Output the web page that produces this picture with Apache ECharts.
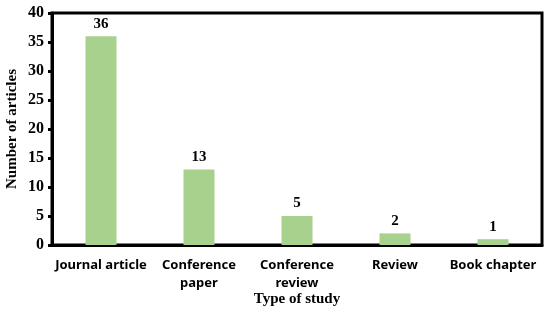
<!DOCTYPE html>
<html>
<head>
    <meta charset="utf-8">
    <script src="https://cdn.jsdelivr.net/npm/echarts@6/dist/echarts.min.js"></script>
    <style>
    html, body { margin: 0; padding: 0; background: #fff; }
    #main { width: 550px; height: 312px; }
    </style>
</head>
<body>
    <div id="main"></div>
    <script type="text/javascript">
        var categories = ['Journal article', 'Conference\npaper', 'Conference\nreview', 'Review', 'Book chapter'];
        var articles = [36, 13, 5, 2, 1];

        var serif = '"Liberation Serif", "Times New Roman", serif';
        var sans = '"Noto Sans", "Open Sans", sans-serif';

        var myChart = echarts.init(document.getElementById('main'));
        var option = {
            animation: false,
            grid: {
                left: 52, right: 8, top: 13, bottom: 67,
                outerBoundsMode: 'none',
                containLabel: false,
                show: true,
                borderColor: '#000',
                borderWidth: 3
            },
            xAxis: {
                type: 'category',
                data: categories,
                name: 'Type of study',
                nameLocation: 'middle',
                nameMoveOverlap: false,
                nameGap: 47,
                nameTextStyle: { fontFamily: serif, fontWeight: 'bold', fontSize: 15, color: '#000' },
                axisLine: { lineStyle: { color: '#000', width: 3 } },
                axisTick: { alignWithLabel: true, length: 4, lineStyle: { color: '#000', width: 3 } },
                axisLabel: {
                    color: '#000', fontFamily: sans, fontWeight: 'bold', fontSize: 13,
                    lineHeight: 18, margin: 11, interval: 0
                }
            },
            yAxis: {
                type: 'value',
                min: 0, max: 40, interval: 5,
                name: 'Number of articles',
                nameLocation: 'middle',
                nameMoveOverlap: false,
                nameGap: 32,
                nameTextStyle: { fontFamily: serif, fontWeight: 'bold', fontSize: 15, color: '#000' },
                axisLine: { show: true, lineStyle: { color: '#000', width: 3 } },
                axisTick: { show: true, length: 4, lineStyle: { color: '#000', width: 3 } },
                splitLine: { show: false },
                axisLabel: { color: '#000', fontFamily: serif, fontWeight: 'bold', fontSize: 16, margin: 8 }
            },
            series: [{
                type: 'bar',
                data: articles,
                barWidth: 31,
                itemStyle: { color: '#a9d18e' },
                label: {
                    show: true, position: 'top', distance: 5,
                    color: '#000', fontFamily: serif, fontWeight: 'bold', fontSize: 15
                }
            }]
        };
        myChart.setOption(option);
    </script>
</body>
</html>
